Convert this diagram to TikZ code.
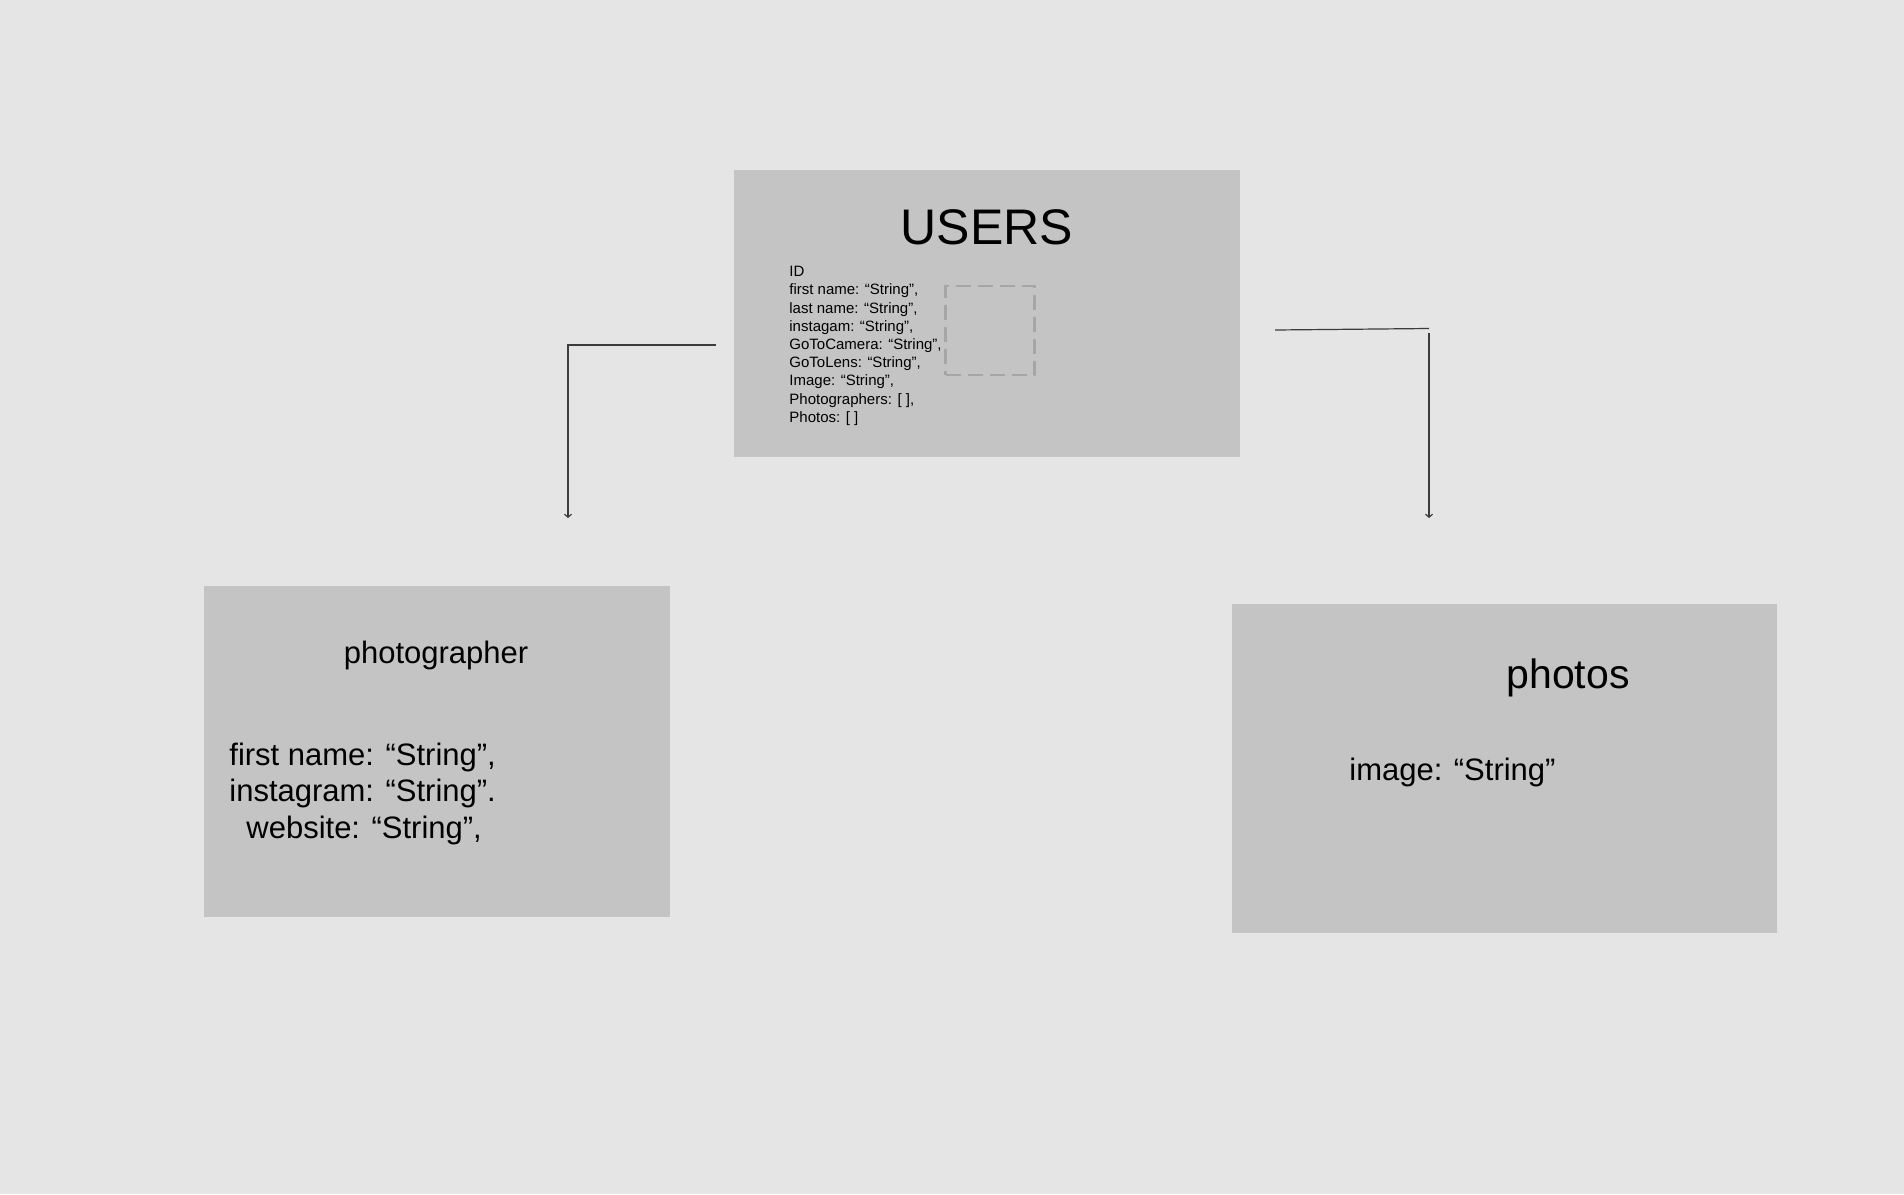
\documentclass[tikz,border=0pt]{standalone}
\usepackage{fontspec}
\setmainfont{Liberation Sans}
\usetikzlibrary{arrows.meta}
\definecolor{bgcol}{HTML}{E5E5E5}
\definecolor{boxcol}{HTML}{C4C4C4}
\definecolor{dashcol}{HTML}{A6A6A6}
\definecolor{linecol}{HTML}{3C3C3C}
\begin{document}
\begin{tikzpicture}[x=0.5pt,y=-0.5pt]
	\tikzstyle{table}=[rectangle,fill=boxcol,inner sep=0pt]
	\tikzstyle{field}=[inner sep=0pt,align=left,anchor=north west,font=\fontsize{15.5}{18.35}\selectfont]
	\tikzstyle{link}=[draw=linecol,line width=0.6pt]
	\tikzstyle{tip}=[-{Straight Barb[length=1.5pt,width=3.5pt]}]
	\fill[bgcol] (0,0) rectangle (1904,1194);
	\useasboundingbox (0,0) rectangle (1904,1194);
	% tables
	\node[table,minimum width=253pt,minimum height=143.5pt] (users) at (987,313.5) {};
	\node[table,minimum width=233pt,minimum height=165.5pt] (photographer) at (437,751.5) {};
	\node[table,minimum width=272.5pt,minimum height=164.5pt] (photos) at (1504.5,768.5) {};
	\node[draw=dashcol,line width=1.3pt,dash pattern=on 7.5pt off 3.5pt,minimum width=44.5pt,minimum height=44.5pt,inner sep=0pt] (img) at (990,330.5) {};
	% titles
	\node[anchor=base,inner sep=0pt,font=\fontsize{25}{30}\selectfont] (users_t) at (987,244) {USERS};
	\node[anchor=base,inner sep=0pt,font=\fontsize{15.5}{18}\selectfont] (photographer_t) at (436,663) {photographer};
	\node[anchor=base,inner sep=0pt,font=\fontsize{20.5}{24}\selectfont] (photos_t) at (1568,688) {photos};
	% fields
	\node[field,font=\fontsize{7.5}{9.1}\selectfont] (users_f) at (789,266) {ID\\first name: “String”,\\last name: “String”,\\instagam: “String”,\\GoToCamera: “String”,\\GoToLens: “String”,\\Image: “String”,\\Photographers: [ ],\\Photos: [ ]};
	\node[field] (photographer_f) at (229,742.4) {first name: “String”,\\instagram: “String”.\\\hspace*{8.5pt}website: “String”,};
	\node[field,anchor=base west] (photos_f) at (1349,780) {image: “String”};
	% links
	\coordinate (l_1) at (716,345);
	\coordinate (l_2) at (568,345);
	\coordinate (l_3) at (568,518);
	\coordinate (r_1) at (1275,330);
	\coordinate (r_2) at (1429,328.5);
	\coordinate (r_3) at (1429,333);
	\coordinate (r_4) at (1429,518);
	\draw[link,tip] (l_1) -- (l_2) -- (l_3);
	\draw[link] (r_1) -- (r_2);
	\draw[link,tip] (r_3) -- (r_4);
\end{tikzpicture}
\end{document}
